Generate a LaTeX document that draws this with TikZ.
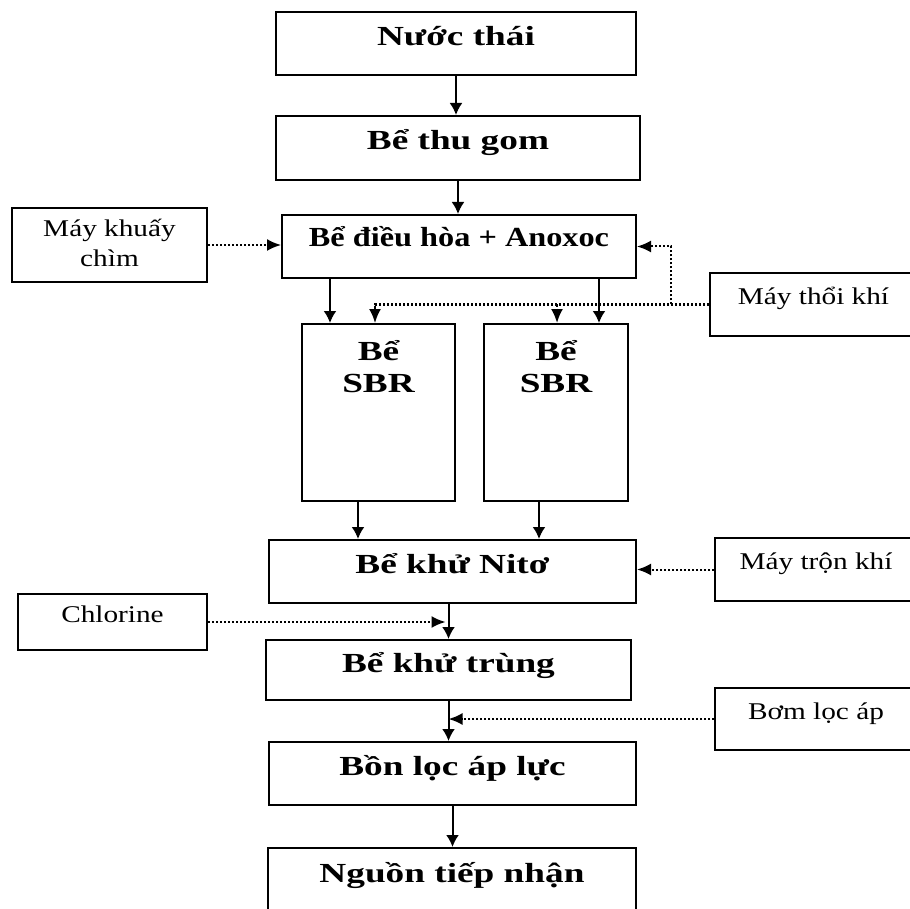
\documentclass[tikz,border=0pt]{standalone}
\usepackage{fontspec}
\setmainfont{Liberation Serif}
\newfontfamily\stagefont{Liberation Serif}[FakeStretch=1.35]
\newfontfamily\mixfont{Liberation Serif}[FakeStretch=1.17]
\newfontfamily\auxfont{Liberation Serif}[FakeStretch=1.22]
\usetikzlibrary{positioning, arrows.meta, calc}

\begin{document}
\begin{tikzpicture}[
  x=0.5pt, y=-0.5pt,
  stage/.style={draw, line width=1pt, inner sep=0pt, align=center,
    font=\stagefont\bfseries\fontsize{13.8}{16}\selectfont, text height=14pt, text depth=12pt},
  tank/.style={stage, minimum height=88.5pt, text depth=34.5pt},
  aux/.style={draw, line width=1pt, inner sep=0pt, align=center,
    font=\auxfont\fontsize{12}{15}\selectfont, text height=10pt, text depth=10pt},
  flow/.style={-{Latex[length=6pt,width=6.5pt]}, line width=1pt},
  air/.style={-{Latex[length=7pt,width=6pt]}, line width=1pt, dash pattern=on 1.2pt off 0.8pt}
]
\clip (0,0) rectangle (910,909);

\node[stage, minimum width=180pt, minimum height=31.5pt] (nuoc) at (456,43.5) {Nước thái};
\node[stage, minimum width=182pt, minimum height=32pt] (thugom) at (458,148) {Bể thu gom};
\node[stage, minimum width=177pt, minimum height=31.5pt, text depth=14pt,
  font=\mixfont\bfseries\fontsize{13.8}{16}\selectfont] (dieuhoa) at (459,246.5) {Bể điều hòa + Anoxoc};
\node[aux, minimum width=97.5pt, minimum height=37pt, text height=29.5pt, text depth=7.5pt] (khuay) at (109.5,245) {Máy khuấy\\chìm};
\node[aux, minimum width=103.5pt, minimum height=31.5pt] (thoi) at (813.5,304.5) {Máy thổi khí};
\node[tank, minimum width=76.5pt] (sbr1) at (378.5,412.5) {Bể\\SBR};
\node[tank, minimum width=72pt] (sbr2) at (556,412.5) {Bể\\SBR};
\node[stage, minimum width=183.5pt, minimum height=31.5pt] (nito) at (452.5,571.5) {Bể khử Nitơ};
\node[aux, minimum width=101pt, minimum height=31.5pt] (tron) at (816,569.5) {Máy trộn khí};
\node[aux, minimum width=94.5pt, minimum height=28pt] (chlor) at (112.5,622) {Chlorine};
\node[stage, minimum width=182.5pt, minimum height=30pt] (khutrung) at (448.5,670) {Bể khử trùng};
\node[aux, minimum width=101pt, minimum height=31pt] (bom) at (816,719) {Bơm lọc áp};
\node[stage, minimum width=183.5pt, minimum height=31.5pt] (boloc) at (452.5,773.5) {Bồn lọc áp lực};
\node[stage, minimum width=184pt, minimum height=32pt] (nguon) at (452,880) {Nguồn tiếp nhận};

% drop lines into and out of the SBR tanks
\coordinate (x1) at (330,0);
\coordinate (x2) at (599,0);
\coordinate (x3) at (375,0);
\coordinate (x4) at (557,0);
\coordinate (x5) at (671,0);
\coordinate (x6) at (358,0);
\coordinate (x7) at (539,0);

\draw[flow] (nuoc.south) -- (nuoc.south |- thugom.north);
\draw[flow] (thugom.south) -- (thugom.south |- dieuhoa.north);
\draw[air] (khuay) -- (khuay -| dieuhoa.west);
\draw[flow] (x1 |- dieuhoa.south) -- (x1 |- sbr1.north);
\draw[flow] (x2 |- dieuhoa.south) -- (x2 |- sbr2.north);
\draw[air] (thoi.west) -- (x3 |- thoi.west) -- (x3 |- sbr1.north);
\draw[air] (x4 |- thoi.west) -- (x4 |- sbr2.north);
\draw[air] (x5 |- thoi.west) |- (dieuhoa.east);
\draw[flow] (x6 |- sbr1.south) -- (x6 |- nito.north);
\draw[flow] (x7 |- sbr2.south) -- (x7 |- nito.north);
\draw[air] (tron) -- (tron -| nito.east);
\draw[flow] (khutrung.north |- nito.south) -- (khutrung.north);
\draw[air, shorten >=1.5pt] (chlor) -- (chlor -| khutrung.north);
\draw[flow] (khutrung.south) -- (khutrung.south |- boloc.north);
\draw[air] (bom) -- (bom -| khutrung.south);
\draw[flow] (boloc.south) -- (boloc.south |- nguon.north);
\end{tikzpicture}
\end{document}
